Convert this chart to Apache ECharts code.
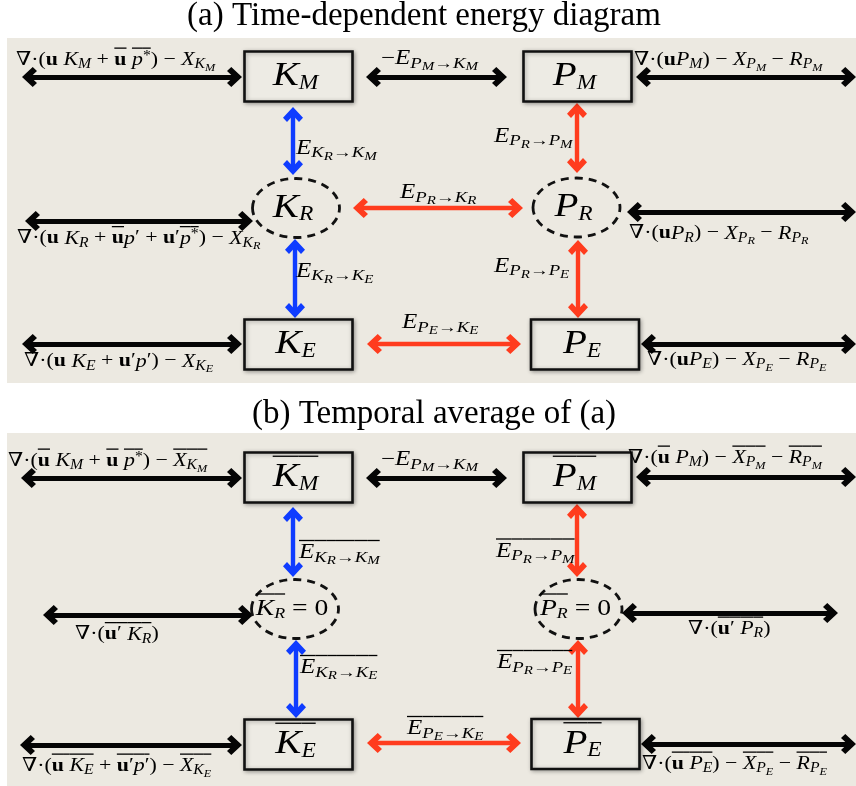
<!DOCTYPE html>
<html>
<head>
<meta charset="utf-8">
<script src="https://cdn.jsdelivr.net/npm/echarts@6/dist/echarts.min.js"></script>
<style>
  html, body { margin: 0; padding: 0; background: #fff; }
  #main { width: 856px; height: 786px; }
</style>
</head>
<body>
<div id="main"></div>
<script>
// segment helpers: [richStyle, text, overlined]
function R(t, o) { return ['r', t, !!o]; }
function I(t, o) { return ['i', t, !!o]; }
function B(t, o) { return ['b', t, !!o]; }
function S(t, o) { return ['s', t, !!o]; }
function T(t, o) { return ['t', t, !!o]; }
function P(t, o) { return ['p', t, !!o]; }
// E_{a_aa -> b_bb}
function E(a, aa, b, bb, o) {
  return [I('E', o), S(a, o), T(aa, o), ['a', '→', !!o], S(b, o), T(bb, o)];
}

var titles = ['(a) Time-dependent energy diagram', '(b) Temporal average of (a)'];

// energy reservoirs
var nodeNames = ['K_M', 'P_M', 'K_R', 'P_R', 'K_E', 'P_E'];
var nodeKind = ['box', 'box', 'ring', 'ring', 'box', 'box'];
var nodeXA = [298.5, 577.5, 296, 576.5, 298.5, 585];
var nodeYA = [76.5, 76.5, 208, 207.5, 344.5, 344.5];
var nodeXB = [298.5, 577.5, 295, 578.5, 298.5, 585.5];
var nodeYB = [477.5, 477.5, 609, 609, 744.5, 744];

// transfer arrows (tip to tip)
var arrowX1A = [22, 366, 636, 293, 577, 25, 353, 627, 295, 578, 22, 367, 641];
var arrowY1A = [77, 77, 77, 107, 103, 221, 208, 212, 239, 240, 344, 344, 344];
var arrowX2A = [242, 507, 856, 293, 577, 253, 523, 856, 295, 578, 242, 521, 856];
var arrowY2A = [77, 77, 77, 175, 173, 221, 208, 212, 318, 318, 344, 344, 344];
var arrowKindA = ['flux', 'flux', 'flux', 'K', 'P', 'flux', 'P', 'flux', 'K', 'P', 'flux', 'P', 'flux'];

var arrowX1B = [21, 366, 636, 293, 577, 43, 622, 296, 578, 20, 367, 641];
var arrowY1B = [478, 478, 477, 507, 504, 615, 613, 640, 640, 745, 743, 744];
var arrowX2B = [242, 507, 856, 293, 577, 253, 838, 296, 578, 242, 521, 856];
var arrowY2B = [478, 478, 477, 577, 577, 615, 613, 718, 718, 745, 743, 744];
var arrowKindB = ['flux', 'flux', 'flux', 'K', 'P', 'flux', 'flux', 'K', 'P', 'flux', 'P', 'flux'];

// term labels
var labelTextA = [
  [R('∇·('), B('u'), R(' '), I('K'), S('M'), R(' + '), B('u', 1), R(' '), I('p', 1), P('*', 1), R(') − '), I('X'), S('K'), T('M')],
  [R('−')].concat(E('P', 'M', 'K', 'M')),
  [R('∇·('), B('u'), I('P'), S('M'), R(') − '), I('X'), S('P'), T('M'), R(' − '), I('R'), S('P'), T('M')],
  E('K', 'R', 'K', 'M'),
  E('P', 'R', 'P', 'M'),
  E('P', 'R', 'K', 'R'),
  [R('∇·('), B('u'), R(' '), I('K'), S('R'), R(' + '), B('u', 1), I('p'), R('′ + '), B('u'), R('′'), I('p', 1), P('*', 1), R(') − '), I('X'), S('K'), T('R')],
  [R('∇·('), B('u'), I('P'), S('R'), R(') − '), I('X'), S('P'), T('R'), R(' − '), I('R'), S('P'), T('R')],
  E('K', 'R', 'K', 'E'),
  E('P', 'R', 'P', 'E'),
  E('P', 'E', 'K', 'E'),
  [R('∇·('), B('u'), R(' '), I('K'), S('E'), R(' + '), B('u'), R('′'), I('p'), R('′) − '), I('X'), S('K'), T('E')],
  [R('∇·('), B('u'), I('P'), S('E'), R(') − '), I('X'), S('P'), T('E'), R(' − '), I('R'), S('P'), T('E')]
];
var labelXA = [16, 381, 634, 296, 494, 400, 17, 629, 296, 494, 402, 24, 647];
var labelYA = [60, 59, 60, 148.5, 136.5, 193, 238.5, 233.5, 271.5, 266.5, 323, 361.5, 360];
var labelKindA = ['f', 'e', 'f', 'e', 'e', 'e', 'f', 'f', 'e', 'e', 'e', 'f', 'f'];

var labelTextB = [
  [R('∇·('), B('u', 1), R(' '), I('K'), S('M'), R(' + '), B('u', 1), R(' '), I('p', 1), P('*', 1), R(') − '), I('X', 1), S('K', 1), T('M', 1)],
  [R('−')].concat(E('P', 'M', 'K', 'M')),
  [R('∇·('), B('u', 1), R(' '), I('P'), S('M'), R(') − '), I('X', 1), S('P', 1), T('M', 1), R(' − '), I('R', 1), S('P', 1), T('M', 1)],
  E('K', 'R', 'K', 'M', 1),
  E('P', 'R', 'P', 'M', 1),
  [R('∇·('), B('u', 1), R('′ ', 1), I('K', 1), S('R', 1), R(')')],
  [R('∇·('), B('u', 1), R('′ ', 1), I('P', 1), S('R', 1), R(')')],
  E('K', 'R', 'K', 'E', 1),
  E('P', 'R', 'P', 'E', 1),
  E('P', 'E', 'K', 'E', 1),
  [R('∇·('), B('u', 1), R(' ', 1), I('K', 1), S('E', 1), R(' + '), B('u', 1), R('′', 1), I('p', 1), R('′', 1), R(') − '), I('X', 1), S('K', 1), T('E', 1)],
  [R('∇·('), B('u', 1), R(' ', 1), I('P', 1), S('E', 1), R(') − '), I('X', 1), S('P', 1), T('E', 1), R(' − '), I('R', 1), S('P', 1), T('E', 1)]
];
var labelXB = [8, 381, 628, 299, 496, 75, 688, 300, 497, 407, 22, 642];
var labelYB = [461, 460, 458, 553, 551.5, 634.5, 629, 668, 663, 729, 766, 764];
var labelKindB = ['f', 'e', 'f', 'e', 'e', 'f', 'f', 'e', 'e', 'e', 'f', 'f'];

var panelY0 = [38, 433];
var panelY1 = [383, 786];

// ---------------------------------------------------------------
var FONT = '"Liberation Serif", "DejaVu Serif", serif';
var BG = '#ece9e1';
var arrowColor = { flux: '#050505', K: '#0f3cff', P: '#ff3c1e' };
var HEAD = 'path://M10,0L20,10L16,14L10,8L4,14L0,10Z';
var HEAD_INSET = 7.5;

// rich styles for one text size: main M, sub/subsub ratios and baseline drops
function buildRich(M, subR, subD, ssR, ssD) {
  var ss = M * subR, tt = M * ssR;
  var subShift = 0.34 * (M - ss) + subD * M;
  var ssShift = 0.34 * (M - tt) + ssD * M;
  var supShift = 0.34 * (M - ss) - 0.3 * M;
  function pad(sh) { return sh >= 0 ? [2 * sh, 0, 0, 0] : [0, 0, -2 * sh, 0]; }
  var base = {
    r: { size: M },
    i: { size: M, style: 'italic' },
    b: { size: M, weight: 'bold' },
    s: { size: ss, style: 'italic', pad: pad(subShift) },
    a: { size: ss, pad: pad(subShift) },
    t: { size: tt, style: 'italic', pad: pad(ssShift) },
    p: { size: ss, pad: pad(supShift) }
  };
  var rich = {};
  Object.keys(base).forEach(function (k) {
    var b = base[k];
    var common = {
      fontFamily: FONT, fontSize: b.size,
      fontStyle: b.style || 'normal', fontWeight: b.weight || 'normal'
    };
    rich[k] = Object.assign({}, common, {
      fill: '#000', lineHeight: b.pad ? 1 : M, padding: b.pad
    });
    rich[k + '_o'] = Object.assign({}, common, {
      fill: 'rgba(0,0,0,0)', backgroundColor: '#000', height: 1.3, lineHeight: 0.25 * M
    });
    rich[k + '_g'] = Object.assign({}, common, {
      fill: 'rgba(0,0,0,0)', height: 1.3, lineHeight: 0.25 * M
    });
  });
  return rich;
}

var textClass = {
  f: { M: 19, sx: 1.15, rich: buildRich(19, 0.72, 0.15, 0.56, 0.27) },
  e: { M: 20, sx: 1.25, rich: buildRich(20, 0.75, 0.15, 0.6, 0.27) },
  n: { M: 34, sx: 1.15, rich: buildRich(34, 0.6, 0.06, 0.5, 0.1) },
  m: { M: 24, sx: 1.15, rich: buildRich(24, 0.65, 0.08, 0.5, 0.1) }
};

// line of overbars above the formula, mirrored token by token
function toRich(segs) {
  var top = '', bot = '', bar = false;
  segs.forEach(function (s) {
    bot += '{' + s[0] + '|' + s[1] + '}';
    top += '{' + s[0] + (s[2] ? '_o' : '_g') + '|' + s[1] + '}';
    if (s[2]) bar = true;
  });
  return bar ? top + '\n' + bot : bot;
}

function textEl(segs, cls, x, y, align) {
  var c = textClass[cls];
  return {
    type: 'text', x: x, y: y + c.M / 2, scaleX: c.sx,
    style: {
      text: toRich(segs), rich: c.rich, align: align, verticalAlign: 'bottom',
      fill: '#000', fontFamily: FONT, fontSize: c.M
    }
  };
}

function nodeSegs(panel, i) {
  var nm = nodeNames[i], o = panel === 1;
  var segs = [I(nm[0], o), S(nm[2], o)];
  if (o && nodeKind[i] === 'ring') segs.push(R(' = 0'));
  return segs;
}

function arrowData(x1s, y1s, x2s, y2s, kinds) {
  return x1s.map(function (x1, i) {
    var y1 = y1s[i], x2 = x2s[i], y2 = y2s[i];
    var dx = x2 - x1, dy = y2 - y1, len = Math.sqrt(dx * dx + dy * dy);
    var ux = dx / len, uy = dy / len;
    return {
      coords: [[x1 + ux * HEAD_INSET, y1 + uy * HEAD_INSET], [x2 - ux * HEAD_INSET, y2 - uy * HEAD_INSET]],
      lineStyle: { color: arrowColor[kinds[i]], width: kinds[i] === 'flux' ? 5 : 4.4 }
    };
  });
}

var nodeData = nodeXA.map(function (x, i) { return [x, nodeYA[i], 0, i]; })
  .concat(nodeXB.map(function (x, i) { return [x, nodeYB[i], 1, i]; }));

var labelData = labelXA.map(function (x, i) { return [x, labelYA[i], 0, i]; })
  .concat(labelXB.map(function (x, i) { return [x, labelYB[i], 1, i]; }));

var panelData = panelY0.map(function (y, i) { return [7, y, 856, panelY1[i]]; });

var chart = echarts.init(document.getElementById('main'));
var option = {
  animation: false,
  backgroundColor: '#fff',
  title: titles.map(function (t, i) {
    return {
      text: t, left: i === 0 ? 424 : 434, top: i === 0 ? 0 : 398, textAlign: 'center', padding: 0,
      textStyle: { fontFamily: FONT, fontSize: 33, fontWeight: 'normal', color: '#000', lineHeight: 33 }
    };
  }),
  grid: { left: 0, right: 0, top: 0, bottom: 0 },
  xAxis: { type: 'value', min: 0, max: 856, show: false },
  yAxis: { type: 'value', min: 0, max: 786, inverse: true, show: false },
  series: [
    {
      type: 'custom', name: 'panels', z: 0, silent: true,
      data: panelData,
      renderItem: function (params, api) {
        var p0 = api.coord([api.value(0), api.value(1)]);
        var p1 = api.coord([api.value(2), api.value(3)]);
        return {
          type: 'rect',
          shape: { x: p0[0], y: p0[1], width: p1[0] - p0[0], height: p1[1] - p0[1] },
          style: { fill: BG }
        };
      }
    },
    {
      type: 'lines', name: 'arrows A', coordinateSystem: 'cartesian2d', z: 2, silent: true,
      symbol: [HEAD, HEAD], symbolSize: [[20, 15], [20, 15]],
      lineStyle: { opacity: 1, curveness: 0 },
      data: arrowData(arrowX1A, arrowY1A, arrowX2A, arrowY2A, arrowKindA)
    },
    {
      type: 'lines', name: 'arrows B', coordinateSystem: 'cartesian2d', z: 2, silent: true,
      symbol: [HEAD, HEAD], symbolSize: [[20, 15], [20, 15]],
      lineStyle: { opacity: 1, curveness: 0 },
      data: arrowData(arrowX1B, arrowY1B, arrowX2B, arrowY2B, arrowKindB)
    },
    {
      type: 'custom', name: 'reservoirs', z: 3, silent: true,
      data: nodeData,
      renderItem: function (params, api) {
        var c = api.coord([api.value(0), api.value(1)]);
        var panel = api.value(2), i = api.value(3);
        var shapeEl;
        if (nodeKind[i] === 'box') {
          var sz = api.size([108, 50]);
          shapeEl = {
            type: 'rect',
            shape: { x: c[0] - sz[0] / 2, y: c[1] - sz[1] / 2, width: sz[0], height: sz[1] },
            style: {
              fill: '#edebe4', stroke: '#111', lineWidth: 2.6,
              shadowBlur: 4, shadowColor: 'rgba(0,0,0,0.3)', shadowOffsetX: 1, shadowOffsetY: 1
            }
          };
        } else {
          var rr = api.size([43.5, 29.5]);
          shapeEl = {
            type: 'ellipse',
            shape: { cx: c[0], cy: c[1], rx: rr[0], ry: rr[1] },
            style: { fill: 'none', stroke: '#111', lineWidth: 2.8, lineDash: [8, 6] }
          };
        }
        var cls = (panel === 1 && nodeKind[i] === 'ring') ? 'm' : 'n';
        return {
          type: 'group',
          children: [shapeEl, textEl(nodeSegs(panel, i), cls, c[0] - 3, c[1], 'center')]
        };
      }
    },
    {
      type: 'custom', name: 'terms', z: 4, silent: true,
      data: labelData,
      renderItem: function (params, api) {
        var p = api.coord([api.value(0), api.value(1)]);
        var panel = api.value(2), i = api.value(3);
        var segs = panel === 0 ? labelTextA[i] : labelTextB[i];
        var cls = panel === 0 ? labelKindA[i] : labelKindB[i];
        return textEl(segs, cls, p[0], p[1], 'left');
      }
    }
  ]
};
chart.setOption(option);
</script>
</body>
</html>
